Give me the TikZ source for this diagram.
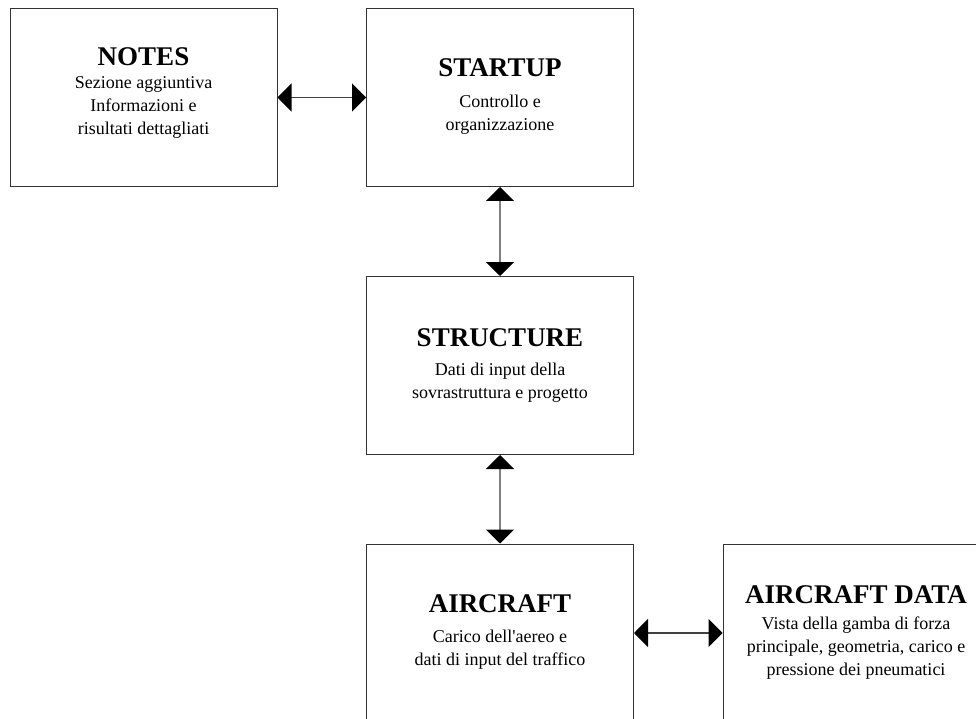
\documentclass[tikz,border=0pt]{standalone}
\usepackage{fontspec}
\setmainfont{Liberation Serif}
\usetikzlibrary{arrows.meta}
\tikzset{
  box/.style={draw=black!80, line width=1pt, fill=white, minimum width=267pt, minimum height=178pt, inner sep=0pt},
  ttl/.style={font=\fontsize{27}{31}\selectfont\bfseries, inner sep=0pt, anchor=base},
  bdy/.style={font=\fontsize{18}{23}\selectfont, inner sep=0pt, align=center, anchor=base},
  vlink/.style={draw=black!50, line width=1.6pt, {Triangle[length=14pt,width=28pt,fill=black,color=black]}-{Triangle[length=14pt,width=28pt,fill=black,color=black]}},
  hlink/.style={draw=black!75, line width=1.2pt, {Triangle[length=14pt,width=28pt,fill=black,color=black]}-{Triangle[length=14pt,width=28pt,fill=black,color=black]}}
}
\begin{document}
\begin{tikzpicture}[x=1pt,y=-1pt]
\useasboundingbox (0,0) rectangle (976,719);
\clip (0,0) rectangle (976,719);
% boxes
\node[box] (notes) at (143.5,97.5) {};
\node[box] (startup) at (500,97.5) {};
\node[box] (structure) at (500,365.5) {};
\node[box] (aircraft) at (500,633) {};
\node[box] (acdata) at (856.5,633) {};
% texts (body nodes anchored at the baseline of their last line)
\node[ttl] (notesT) at (143.5,66) {NOTES};
\node[bdy] (notesB) at (143.5,135) {Sezione aggiuntiva\\Informazioni e\\risultati dettagliati};
\node[ttl] (startupT) at (500,77) {STARTUP};
\node[bdy] (startupB) at (500,131) {Controllo e\\organizzazione};
\node[ttl] (structureT) at (500,346) {STRUCTURE};
\node[bdy] (structureB) at (500,398) {Dati di input della\\sovrastruttura e progetto};
\node[ttl] (aircraftT) at (500,612) {AIRCRAFT};
\node[bdy] (aircraftB) at (500,665) {Carico dell\textquotesingle aereo e\\dati di input del traffico};
\node[ttl] (acdataT) at (856,603) {AIRCRAFT DATA};
\node[bdy] (acdataB) at (856,675) {Vista della gamba di forza\\principale, geometria, carico e\\pressione dei pneumatici};
% connectors
\draw[hlink] (notes.east) -- (startup.west);
\draw[vlink] (startup.south) -- (structure.north);
\draw[vlink] (structure.south) -- (aircraft.north);
\draw[hlink] (aircraft.east) -- (acdata.west);
\end{tikzpicture}
\end{document}
